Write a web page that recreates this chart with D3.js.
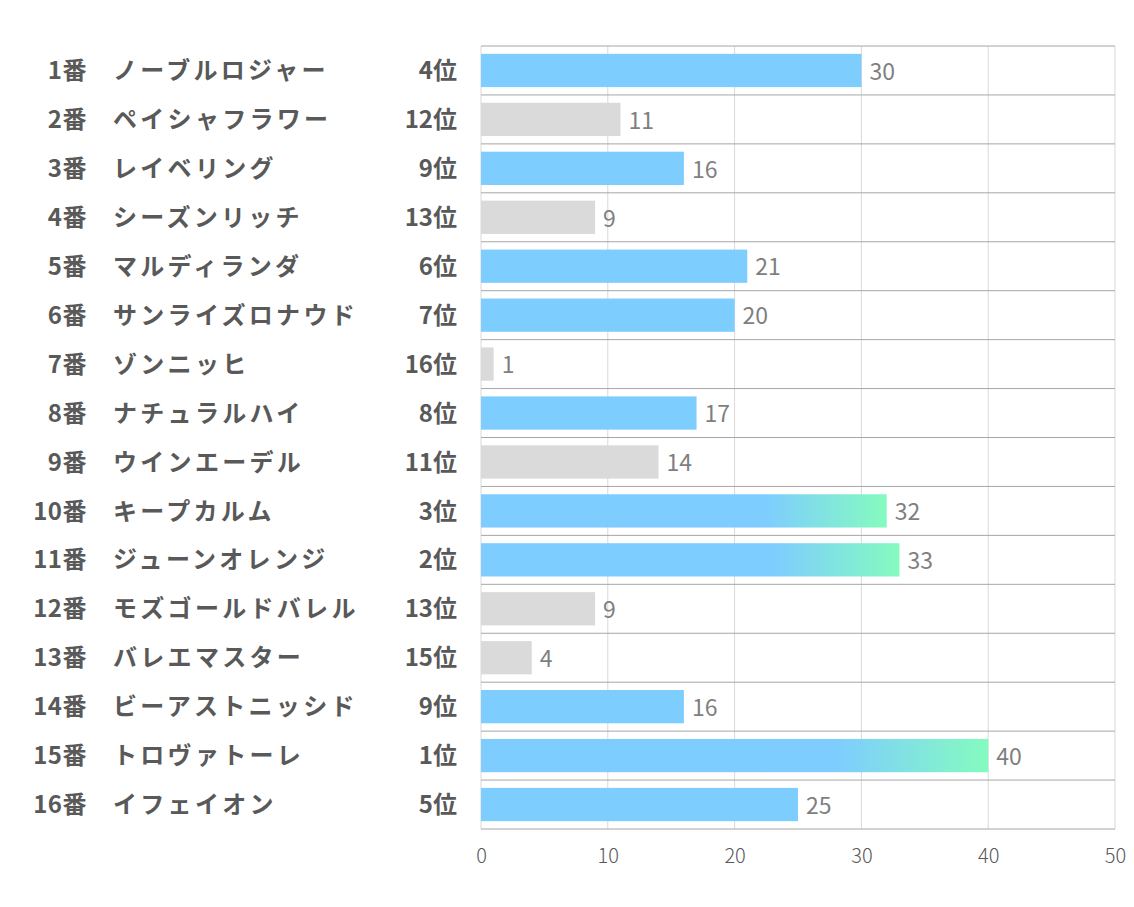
<!DOCTYPE html>
<html lang="ja">
<head>
<meta charset="utf-8">
<script src="https://d3js.org/d3.v7.min.js"></script>
<style>
  body { margin: 0; background: #fff; font-family: "Noto Sans CJK JP", "Noto Sans", sans-serif; }
</style>
</head>
<body>
<div id="chart"></div>
<script>
// data
var numbers = ["1番","2番","3番","4番","5番","6番","7番","8番","9番","10番","11番","12番","13番","14番","15番","16番"];
var names = ["ノーブルロジャー","ペイシャフラワー","レイベリング","シーズンリッチ","マルディランダ","サンライズロナウド","ゾンニッヒ","ナチュラルハイ","ウインエーデル","キープカルム","ジューンオレンジ","モズゴールドバレル","バレエマスター","ビーアストニッシド","トロヴァトーレ","イフェイオン"];
var ranks = [4,12,9,13,6,7,16,8,11,3,2,13,15,9,1,5];
var values = [30,11,16,9,21,20,1,17,14,32,33,9,4,16,40,25];
var ticks = [0,10,20,30,40,50];

var width = 1134, height = 907;
var plotLeft = 481, plotRight = 1115, plotTop = 46, plotBottom = 829;

var svg = d3.select("#chart").append("svg")
  .attr("width", width)
  .attr("height", height);

// gradient for the top 3
var grad = svg.append("defs").append("linearGradient")
  .attr("id", "top3")
  .attr("x1", "0%").attr("x2", "100%")
  .attr("y1", "0%").attr("y2", "0%");
grad.append("stop").attr("offset", "70%").attr("stop-color", "#7acbff");
grad.append("stop").attr("offset", "100%").attr("stop-color", "#80fbbd");

var x = d3.scaleLinear().domain([0, 50]).range([plotLeft, plotRight]);
var y = d3.scaleBand().domain(d3.range(numbers.length)).range([plotTop, plotBottom]).paddingInner(0.32).paddingOuter(0.16);
var rows = d3.scaleBand().domain(d3.range(numbers.length)).range([plotTop, plotBottom]);

// vertical grid
svg.append("g").selectAll("line")
  .data(ticks).enter().append("line")
  .attr("x1", function(d) { return x(d); })
  .attr("x2", function(d) { return x(d); })
  .attr("y1", plotTop).attr("y2", plotBottom)
  .attr("stroke", "#d9d9d9").attr("stroke-width", 1);

// horizontal row lines
svg.append("g").selectAll("line")
  .data(d3.range(numbers.length + 1)).enter().append("line")
  .attr("x1", plotLeft).attr("x2", plotRight)
  .attr("y1", function(d) { return d < numbers.length ? rows(d) : plotBottom; })
  .attr("y2", function(d) { return d < numbers.length ? rows(d) : plotBottom; })
  .attr("stroke", "#a6a6a6").attr("stroke-width", 1);

function barColor(i) {
  if (ranks[i] <= 3) return "url(#top3)";
  if (ranks[i] <= 9) return "#7acbff";
  return "#d9d9d9";
}

svg.append("g").selectAll("rect")
  .data(values).enter().append("rect")
  .attr("x", x(0))
  .attr("y", function(d, i) { return y(i); })
  .attr("width", function(d) { return x(d) - x(0); })
  .attr("height", y.bandwidth())
  .attr("fill", function(d, i) { return barColor(i); })
  .attr("fill-opacity", 0.97);

// value labels
svg.append("g").selectAll("text")
  .data(values).enter().append("text")
  .attr("x", function(d) { return x(d) + 8; })
  .attr("y", function(d, i) { return y(i) + y.bandwidth() / 2 + 1; })
  .attr("dy", "0.36em")
  .attr("font-size", 23)
  .attr("fill", "#7f7f7f")
  .text(function(d) { return d; });

// left labels
var lab = svg.append("g").attr("font-weight", "bold").attr("font-size", 24).attr("fill", "#595959");
lab.selectAll(".num").data(numbers).enter().append("text")
  .attr("x", 87)
  .attr("y", function(d, i) { return rows(i) + rows.bandwidth() / 2; })
  .attr("dy", "0.36em")
  .attr("text-anchor", "end")
  .attr("letter-spacing", 0.5)
  .text(function(d) { return d; });
lab.selectAll(".name").data(names).enter().append("text")
  .attr("x", 113)
  .attr("y", function(d, i) { return rows(i) + rows.bandwidth() / 2; })
  .attr("dy", "0.36em")
  .attr("letter-spacing", 3.3)
  .text(function(d) { return d; });
lab.selectAll(".rank").data(ranks).enter().append("text")
  .attr("x", 457)
  .attr("y", function(d, i) { return rows(i) + rows.bandwidth() / 2; })
  .attr("dy", "0.36em")
  .attr("text-anchor", "end")
  .text(function(d) { return d + "位"; });

// x axis
var axis = svg.append("g")
  .attr("transform", "translate(0," + plotBottom + ")")
  .call(d3.axisBottom(x).tickValues(ticks).tickSize(0).tickPadding(20));
axis.select(".domain").remove();
axis.selectAll("text")
  .attr("font-size", 20)
  .attr("font-weight", 300)
  .attr("fill", "#595959")
  .attr("font-family", "\"Noto Sans CJK JP\", sans-serif");
</script>
</body>
</html>
